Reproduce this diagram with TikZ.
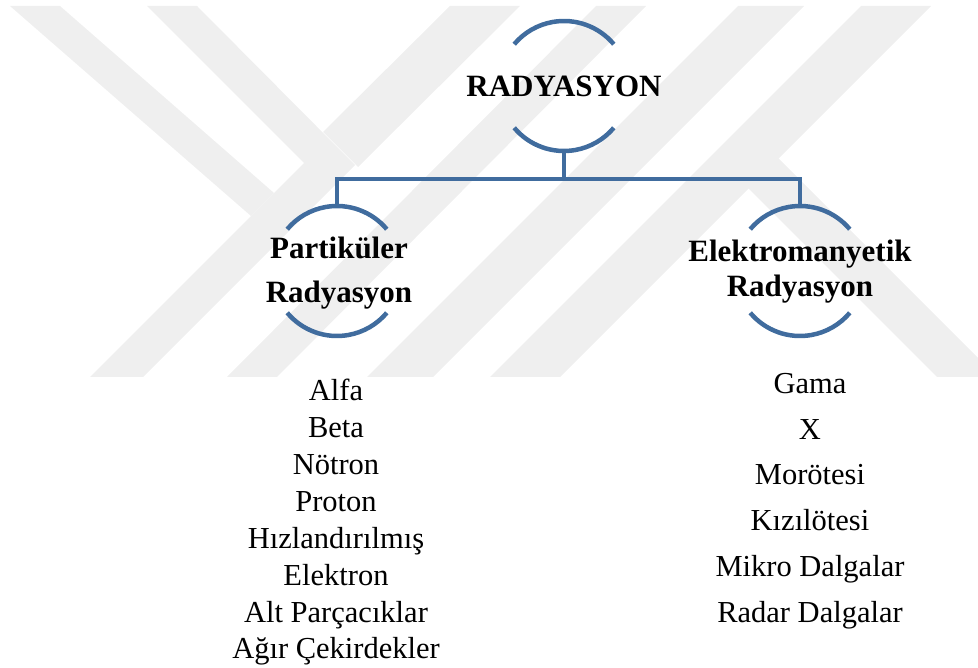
\documentclass[tikz,border=0pt]{standalone}
\usepackage{fontspec}
\setmainfont{Liberation Serif}
\usetikzlibrary{calc}
\definecolor{ringblue}{RGB}{64,108,158}
\definecolor{wmgrey}{RGB}{239,239,239}
\tikzset{
  ring/.style={circle,minimum size=130pt,inner sep=0pt,outer sep=0pt},
  rim/.style={draw=ringblue,line width=4.5pt},
  conn/.style={draw=ringblue,line width=4.5pt},
  head/.style={font=\bfseries\fontsize{31}{44}\selectfont,align=center,inner sep=0pt},
  items/.style={font=\fontsize{30.5}{36.9}\selectfont,align=center,inner sep=0pt,anchor=north},
  wm/.style={fill=wmgrey,draw=none},
}

\begin{document}
\begin{tikzpicture}[x=1pt,y=1pt]
  \useasboundingbox (0,0) rectangle (978,-668);

  % ---------------- watermark ----------------
  \fill[wm] (10,-6) -- (60,-6) -- (274,-193) -- (251,-216) -- cycle;
  \fill[wm] (147,-6) -- (197,-6) -- (355,-165) -- (143,-377) -- (90,-377) -- (304,-163) -- cycle;
  \fill[wm] (450,-6) -- (520,-6) -- (358,-167) -- (323,-132) -- cycle;
  \fill[wm] (596,-6) -- (646,-6) -- (277,-377) -- (227,-377) -- cycle;
  \fill[wm] (738,-6) -- (804,-6) -- (433,-377) -- (367,-377) -- cycle;
  \fill[wm] (861,-6) -- (931,-6) -- (560,-377) -- (490,-377) -- cycle;
  \fill[wm] (748,-188) -- (778,-158) -- (978,-358) -- (978,-377) -- (937,-377) -- cycle;

  % ---------------- rings ----------------
  \node[ring] (rad)  at (564,-86)  {};
  \node[ring] (part) at (337,-271) {};
  \node[ring] (elek) at (800,-271) {};
  \foreach \n in {rad,part,elek}{
    \draw[rim] (\n.40) arc[start angle=40,end angle=140,radius=65pt];
    \draw[rim] (\n.220) arc[start angle=220,end angle=320,radius=65pt];
  }

  % ---------------- tree lines ----------------
  \draw[conn] (rad.south) -- ++(0,-28) coordinate (bus) -| (part.north);
  \draw[conn] (bus) -| (elek.north);

  % ---------------- headings ----------------
  \node[head] (radtxt) at (rad) {RADYASYON};
  \node[head] (parttxt) at ([xshift=2pt,yshift=-2pt]part.center) {Partiküler\\Radyasyon};
  \node[head,font=\bfseries\fontsize{31}{35}\selectfont] (elektxt)
    at ([yshift=-1pt]elek.center) {Elektromanyetik\\Radyasyon};

  % ---------------- lists ----------------
  \node[items] (partlist) at (336,-379)
    {Alfa\\Beta\\Nötron\\Proton\\Hızlandırılmış\\Elektron\\Alt Parçacıklar\\Ağır Çekirdekler};
  \node[items,font=\fontsize{30.5}{45.8}\selectfont] (elektlist) at (810,-373)
    {Gama\\X\\Morötesi\\Kızılötesi\\Mikro Dalgalar\\Radar Dalgalar};
\end{tikzpicture}
\end{document}
